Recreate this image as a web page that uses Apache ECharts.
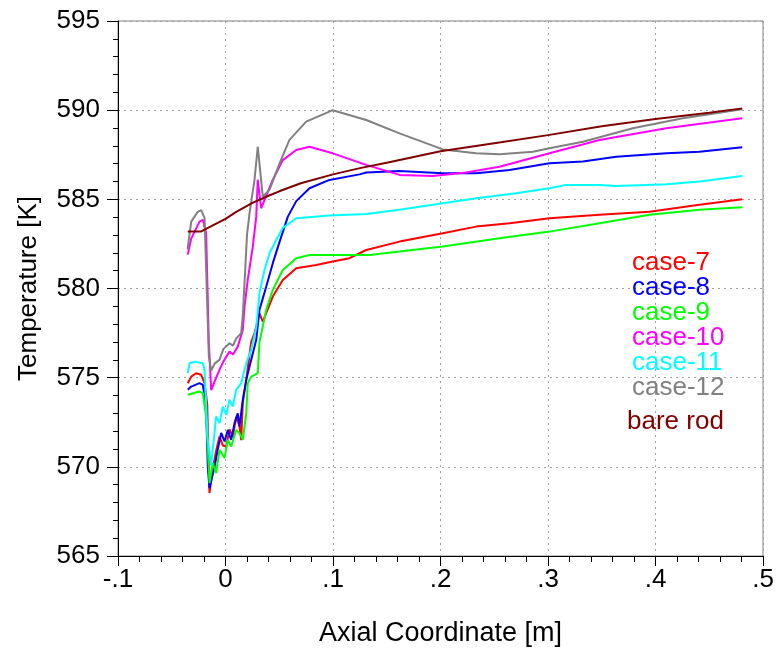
<!DOCTYPE html>
<html>
<head>
<meta charset="utf-8">
<script src="https://cdn.jsdelivr.net/npm/echarts@6/dist/echarts.min.js"></script>
<style>html,body{margin:0;padding:0;background:#fff}#c{width:783px;height:655px}</style>
</head>
<body>
<div id="c"></div>
<script>
const seriesNames = ['case-7','case-8','case-9','case-10','case-11','case-12','bare rod'];
const seriesColors = ['#ff0000','#0000ff','#00ff00','#ff00ff','#00ffff','#808080','#800000'];
const xTickLabels = ['-.1','0','.1','.2','.3','.4','.5'];

const case7 = [[-0.0351,574.69],[-0.0319,575.06],[-0.0273,575.25],[-0.0226,575.16],[-0.0195,574.69],[-0.0170,573.5],[-0.0160,571.0],[-0.0149,568.53],[-0.0118,569.9],[-0.0087,570.9],[-0.0056,571.7],[-0.0025,571.2],[0.0007,571.14],[0.0037,572.1],[0.0068,571.7],[0.0100,572.8],[0.0130,572.3],[0.0146,571.5],[0.0161,573.6],[0.0193,574.88],[0.0239,577.0],[0.0270,577.5],[0.0286,577.58],[0.0316,578.6],[0.0347,578.14],[0.0440,579.55],[0.0533,580.48],[0.0658,581.14],[0.0844,581.32],[0.0998,581.51],[0.1153,581.7],[0.1309,582.16],[0.1619,582.63],[0.2021,583.1],[0.2332,583.47],[0.2642,583.66],[0.3014,583.94],[0.3479,584.13],[0.3944,584.31],[0.4409,584.69],[0.4807,585.0]];
const case8 = [[-0.0351,574.32],[-0.0319,574.5],[-0.0242,574.69],[-0.0211,574.6],[-0.0180,573.38],[-0.0165,570.0],[-0.0149,568.8],[-0.0102,570.0],[-0.0072,570.95],[-0.0040,571.9],[-0.0009,571.42],[0.0021,572.07],[0.0053,571.51],[0.0084,572.45],[0.0114,573.0],[0.0130,572.26],[0.0161,573.76],[0.0193,574.88],[0.0239,576.0],[0.0286,577.12],[0.0316,578.8],[0.0379,580.11],[0.0440,581.42],[0.0502,582.6],[0.0580,584.03],[0.0658,584.9],[0.0781,585.62],[0.0967,586.09],[0.1247,586.4],[0.1309,586.5],[0.1619,586.59],[0.2021,586.46],[0.2332,586.46],[0.2642,586.65],[0.3014,587.02],[0.3324,587.12],[0.3634,587.39],[0.4100,587.58],[0.4409,587.67],[0.4807,587.92]];
const case9 = [[-0.0351,574.04],[-0.0242,574.22],[-0.0211,574.13],[-0.0180,572.82],[-0.0149,569.09],[-0.0118,570.21],[-0.0087,569.65],[-0.0056,570.95],[-0.0009,570.49],[0.0021,571.51],[0.0053,571.14],[0.0100,572.07],[0.0130,571.89],[0.0161,571.51],[0.0193,573.0],[0.0207,574.69],[0.0239,575.06],[0.0300,575.25],[0.0316,577.0],[0.0379,578.8],[0.0440,579.92],[0.0533,581.04],[0.0658,581.7],[0.0781,581.88],[0.1060,581.88],[0.1340,581.88],[0.1619,582.07],[0.2021,582.35],[0.2549,582.82],[0.3014,583.19],[0.3479,583.66],[0.3944,584.13],[0.4409,584.41],[0.4807,584.56]];
const case10 = [[-0.0351,581.9],[-0.0319,582.8],[-0.0242,583.75],[-0.0211,583.85],[-0.0180,583.1],[-0.0155,576.93],[-0.0133,574.3],[-0.0100,574.8],[-0.0056,575.44],[-0.0020,575.9],[0.0037,576.46],[0.0070,576.3],[0.0114,576.74],[0.0161,577.68],[0.0177,578.99],[0.0207,580.48],[0.0254,582.35],[0.0286,584.03],[0.0300,586.1],[0.0332,584.5],[0.0440,586.1],[0.0533,587.2],[0.0658,587.77],[0.0781,587.95],[0.0998,587.58],[0.1309,586.93],[0.1619,586.37],[0.1928,586.31],[0.2239,586.5],[0.2549,586.83],[0.3014,587.58],[0.3479,588.33],[0.4100,588.99],[0.4807,589.55]];
const case11 = [[-0.0351,575.25],[-0.0335,575.81],[-0.0288,575.9],[-0.0211,575.81],[-0.0195,575.44],[-0.0165,571.5],[-0.0133,570.1],[-0.0087,572.82],[-0.0056,572.45],[-0.0025,573.38],[0.0007,572.91],[0.0037,573.76],[0.0068,573.38],[0.0100,574.32],[0.0146,574.69],[0.0193,575.81],[0.0239,576.56],[0.0286,577.8],[0.0316,579.74],[0.0363,581.04],[0.0409,581.98],[0.0472,582.72],[0.0533,583.4],[0.0658,583.94],[0.0967,584.1],[0.1309,584.18],[0.1619,584.41],[0.2021,584.78],[0.2332,585.06],[0.2704,585.34],[0.3014,585.62],[0.3169,585.81],[0.3479,585.81],[0.3634,585.75],[0.4100,585.85],[0.4409,586.0],[0.4807,586.31]];
const case12 = [[-0.0353,582.2],[-0.0319,583.75],[-0.0258,584.3],[-0.0226,584.4],[-0.0195,583.96],[-0.0155,576.2],[-0.0133,575.4],[-0.0100,575.8],[-0.0056,576.0],[-0.0020,576.6],[0.0037,576.93],[0.0070,576.8],[0.0100,577.2],[0.0146,577.5],[0.0161,578.5],[0.0177,580.3],[0.0200,583.0],[0.0223,584.2],[0.0270,586.1],[0.0300,587.95],[0.0347,585.15],[0.0409,585.53],[0.0502,587.0],[0.0595,588.33],[0.0751,589.36],[0.0998,590.0],[0.1309,589.45],[0.1619,588.7],[0.2021,587.8],[0.2332,587.58],[0.2549,587.53],[0.2859,587.67],[0.3014,587.86],[0.3324,588.23],[0.3789,588.99],[0.4254,589.55],[0.4807,590.05]];
const bareRod = [[-0.0351,583.2],[-0.0226,583.2],[-0.0100,583.6],[0.0000,583.9],[0.0100,584.3],[0.0250,584.8],[0.0400,585.2],[0.0500,585.45],[0.0700,585.9],[0.1000,586.4],[0.1250,586.75],[0.1500,587.05],[0.2000,587.7],[0.2500,588.15],[0.3000,588.6],[0.3500,589.1],[0.4000,589.5],[0.4500,589.85],[0.4807,590.1]];

const allData = [case7, case8, case9, case10, case11, case12, bareRod];
const FONT = 'Liberation Sans, Arial, sans-serif';

const chart = echarts.init(document.getElementById('c'), null, {renderer: 'canvas'});
chart.setOption({
  animation: false,
  backgroundColor: '#ffffff',
  grid: {left: 118, right: 20, top: 21, bottom: 99, show: true, borderColor: '#808080', borderWidth: 1},
  legend: [
    {
      data: seriesNames.slice(0, 6).map((n, i) => ({name: n, textStyle: {color: seriesColors[i]}})),
      orient: 'vertical', left: 622, top: 245, itemWidth: 0, itemHeight: 0, itemGap: -1,
      selectedMode: false, icon: 'rect',
      textStyle: {fontSize: 26, fontFamily: FONT}
    },
    {
      data: [{name: seriesNames[6], textStyle: {color: seriesColors[6]}}],
      orient: 'vertical', left: 617, top: 404, itemWidth: 0, itemHeight: 0,
      selectedMode: false, icon: 'rect',
      textStyle: {fontSize: 26, fontFamily: FONT}
    }
  ],
  xAxis: {
    type: 'value', min: -0.1, max: 0.5, interval: 0.1,
    name: 'Axial Coordinate [m]', nameLocation: 'middle', nameGap: 64,
    nameTextStyle: {fontSize: 27, fontFamily: FONT, color: '#000'},
    axisLine: {show: true, onZero: false, lineStyle: {color: '#000', width: 1}},
    axisTick: {show: true, length: 10, lineStyle: {color: '#000'}},
    minorTick: {show: true, splitNumber: 5, length: 6, lineStyle: {color: '#000'}},
    axisLabel: {fontSize: 26, fontFamily: FONT, color: '#000', margin: 11,
      formatter: v => xTickLabels[Math.round((v + 0.1) * 10)] || ''},
    splitLine: {show: true, lineStyle: {color: '#a0a0a0', type: [2, 4], width: 1}}
  },
  yAxis: {
    type: 'value', min: 565, max: 595, interval: 5,
    name: 'Temperature [K]', nameLocation: 'middle', nameGap: 76,
    nameTextStyle: {fontSize: 26, fontFamily: FONT, color: '#000'},
    axisLine: {show: true, onZero: false, lineStyle: {color: '#000', width: 1}},
    axisTick: {show: true, length: 11, lineStyle: {color: '#000'}},
    minorTick: {show: true, splitNumber: 5, length: 5, lineStyle: {color: '#000'}},
    axisLabel: {fontSize: 26, fontFamily: FONT, color: '#000', margin: 18},
    splitLine: {show: true, lineStyle: {color: '#a0a0a0', type: [2, 4], width: 1}}
  },
  series: allData.map((d, i) => ({
    name: seriesNames[i], type: 'line', data: d, showSymbol: false, symbol: 'none',
    lineStyle: {color: seriesColors[i], width: 2}, itemStyle: {color: seriesColors[i]},
    emphasis: {disabled: true}, z: 2 + i
  }))
});
</script>
</body>
</html>
